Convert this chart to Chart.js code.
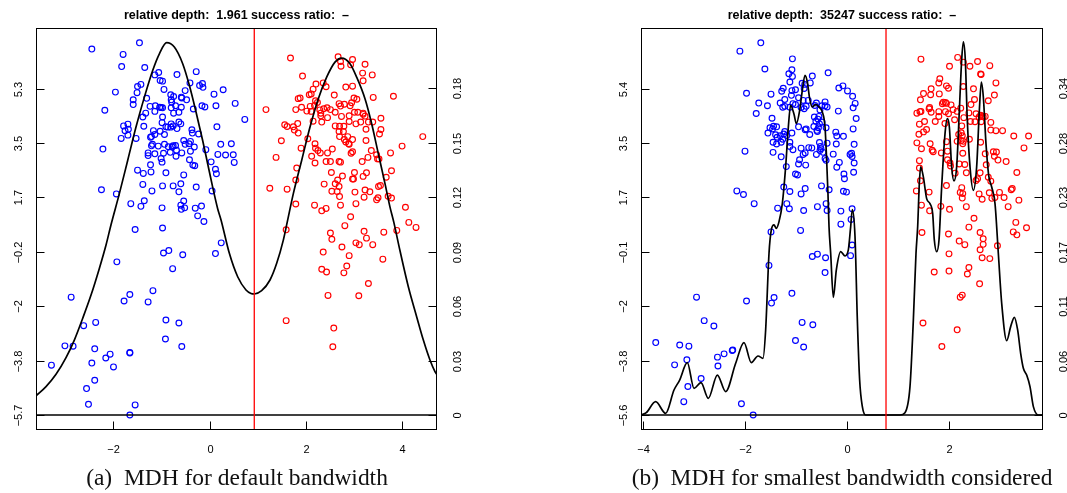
<!DOCTYPE html>
<html><head><meta charset="utf-8">
<script src="https://cdn.jsdelivr.net/npm/chart.js@4.4.1/dist/chart.umd.min.js"></script>
<style>
html,body{margin:0;padding:0;background:#fff;width:1067px;height:493px;overflow:hidden;position:relative}
canvas{position:absolute;top:0}
.cap{position:absolute;white-space:nowrap;font-family:"Liberation Serif","DejaVu Serif",serif;line-height:1;color:#111}
</style></head><body>
<canvas id="cA" width="533" height="493" style="left:0;width:533px;height:493px"></canvas>
<canvas id="cB" width="534" height="493" style="left:533px;width:534px;height:493px"></canvas>
<script>
// ---------------- Panel (a) data ----------------
const titleA = 'relative depth:  1.961 success ratio:  \u2013';
const captionA = '(a)\u2002MDH for default bandwidth';
const xTicksA = [-2, 0, 2, 4];
const xLabelsA = ['\u22122', '0', '2', '4'];
const yTicksA = [-5.66, -3.827, -1.993, -0.16, 1.673, 3.507, 5.34];
const yLabelsA = ['\u22125.7', '\u22123.8', '\u22122', '\u22120.2', '1.7', '3.5', '5.3'];
const dTicksA = [0, 0.03, 0.06, 0.09, 0.12, 0.15, 0.18];
const dLabelsA = ['0', '0.03', '0.06', '0.09', '0.12', '0.15', '0.18'];
const splitA = 0.927;
const blueA = [[-2.45,6.67],[-1.46,6.88],[-1.80,6.49],[-1.83,6.08],[-1.35,6.05],[-1.14,5.80],[-1.06,5.88],[-0.68,5.81],[-0.28,5.91],[-1.03,5.61],[-0.98,5.59],[-0.41,5.53],[-0.21,5.44],[-0.15,5.51],[-0.14,5.38],[-1.50,5.41],[-1.43,5.48],[-0.95,5.31],[-1.96,5.22],[-1.51,5.20],[-0.51,5.27],[-0.81,5.13],[-0.75,5.07],[-0.59,5.05],[-1.31,5.01],[-1.59,4.96],[-0.80,4.96],[-0.79,4.88],[-0.58,5.02],[-0.48,4.96],[0.09,5.15],[0.28,5.30],[0.53,4.84],[-1.59,4.80],[-1.13,4.76],[-1.24,4.74],[-1.01,4.70],[-1.04,4.71],[-0.98,4.69],[-1.14,4.57],[-0.80,4.69],[-0.71,4.76],[-0.59,4.71],[-0.34,4.65],[-0.16,4.76],[-0.10,4.72],[0.13,4.76],[-2.18,4.61],[-1.33,4.51],[-1.39,4.38],[-0.98,4.38],[-0.75,4.51],[-0.64,4.54],[0.73,4.30],[-1.79,4.08],[-1.70,4.14],[-1.76,3.92],[-1.69,3.97],[-1.84,3.66],[-1.70,3.77],[-1.53,3.66],[-1.37,4.07],[-0.99,4.19],[-0.91,4.05],[-0.87,4.04],[-0.80,4.15],[-0.76,4.08],[-0.68,3.99],[-0.60,4.15],[-0.64,4.21],[-0.81,4.04],[-1.17,3.92],[-1.14,3.79],[-1.21,3.72],[-1.23,3.70],[-1.03,3.90],[-0.94,3.79],[-0.37,3.95],[-0.36,3.84],[-0.23,3.81],[0.15,4.05],[-0.54,3.59],[-0.40,3.56],[-1.19,3.46],[-1.21,3.41],[-1.07,3.40],[-0.94,3.46],[-0.86,3.38],[-0.76,3.41],[-0.71,3.42],[-0.78,3.37],[-0.51,3.46],[-0.43,3.48],[-0.32,3.37],[0.23,3.46],[0.45,3.48],[-2.22,3.30],[-1.28,3.17],[-1.28,3.08],[-1.14,3.14],[-0.96,3.16],[-0.82,3.19],[-0.69,3.26],[-0.58,3.17],[-0.40,3.23],[-0.08,3.28],[0.17,3.12],[0.33,3.10],[0.49,3.11],[-1.01,2.98],[-0.99,2.86],[-0.70,3.06],[-0.42,2.94],[-0.35,2.76],[-0.31,2.74],[0.03,2.87],[0.51,2.85],[0.12,2.62],[0.14,2.47],[-1.50,2.59],[-1.38,2.48],[-1.22,2.53],[-1.23,2.77],[-0.91,2.50],[-0.54,2.43],[-1.39,2.11],[-1.20,1.89],[-0.98,2.06],[-0.76,2.06],[-0.60,2.13],[-0.64,1.86],[-0.28,2.02],[0.05,1.89],[-2.25,1.93],[-1.94,1.79],[-1.64,1.46],[-1.36,1.56],[-1.43,1.37],[-0.99,1.32],[-0.54,1.55],[-0.60,1.41],[-0.59,1.27],[-0.52,1.32],[-0.30,1.31],[-0.17,1.38],[-0.25,1.05],[-0.12,0.86],[-1.55,0.59],[-0.98,0.64],[0.24,0.14],[-0.96,-0.20],[-0.85,-0.12],[-0.56,-0.26],[0.12,-0.22],[-1.93,-0.50],[-0.77,-0.73],[-2.88,-1.69],[-1.66,-1.60],[-1.78,-1.82],[-1.28,-1.85],[-1.18,-1.47],[-2.62,-2.65],[-2.37,-2.54],[-0.91,-2.46],[-0.64,-2.56],[-0.92,-3.10],[-0.58,-3.35],[-3.01,-3.33],[-2.84,-3.34],[-2.39,-3.43],[-2.16,-3.74],[-2.07,-3.61],[-1.66,-3.55],[-1.66,-3.57],[-2.45,-3.91],[-2.00,-4.04],[-3.29,-3.98],[-2.39,-4.49],[-2.56,-4.77],[-2.52,-5.30],[-1.55,-5.32],[-1.66,-5.66]];
const redA = [[1.68,6.37],[2.67,6.41],[2.72,6.25],[2.97,6.32],[2.73,6.09],[2.93,6.14],[3.23,6.16],[1.93,5.76],[3.18,5.86],[3.38,5.80],[3.19,5.60],[2.21,5.49],[2.36,5.53],[2.42,5.40],[2.15,5.32],[2.11,5.16],[2.07,5.13],[2.83,5.39],[2.97,5.42],[1.84,5.00],[1.88,5.02],[2.20,4.93],[2.24,4.87],[2.59,5.12],[3.00,5.02],[3.06,4.98],[3.40,5.04],[3.82,5.08],[1.17,4.63],[1.79,4.63],[1.91,4.71],[2.02,4.58],[2.09,4.74],[2.18,4.77],[2.11,4.57],[2.29,4.62],[2.31,4.51],[2.37,4.66],[2.44,4.69],[2.51,4.63],[2.61,4.54],[2.72,4.75],[2.80,4.81],[2.92,4.76],[2.69,4.83],[2.95,4.86],[2.31,4.42],[2.45,4.36],[2.74,4.40],[2.90,4.42],[3.01,4.54],[3.08,4.54],[3.19,4.47],[3.19,4.51],[3.23,4.41],[2.90,4.23],[3.04,4.15],[3.14,4.21],[3.30,4.21],[3.39,4.21],[3.56,4.34],[2.15,4.24],[2.33,4.21],[1.56,4.12],[1.61,4.06],[1.74,4.05],[1.76,3.94],[1.83,4.16],[1.84,3.84],[2.61,4.08],[2.70,4.07],[2.79,4.07],[2.69,3.89],[2.78,3.89],[2.70,3.72],[2.87,3.72],[2.80,3.62],[2.83,3.54],[2.89,3.48],[2.97,3.62],[2.90,3.46],[3.25,3.97],[3.56,3.96],[3.53,3.81],[2.04,3.65],[1.49,3.58],[3.25,3.59],[2.19,3.48],[1.90,3.33],[2.20,3.33],[2.25,3.25],[2.30,3.17],[2.12,3.06],[2.19,2.83],[2.45,3.17],[2.55,3.30],[2.97,3.21],[2.94,3.16],[3.36,3.25],[3.47,3.11],[3.76,3.17],[4.00,3.40],[4.43,3.72],[1.38,3.02],[2.42,2.88],[2.51,2.88],[2.69,2.88],[2.72,2.86],[3.17,2.88],[3.29,3.02],[3.49,2.97],[3.52,2.97],[1.81,2.66],[1.79,2.26],[2.53,2.51],[2.76,2.39],[2.97,2.29],[2.99,2.29],[3.01,2.51],[3.19,2.38],[3.26,2.50],[2.66,2.26],[2.61,2.13],[2.69,2.04],[2.38,2.12],[2.54,1.88],[2.65,1.87],[2.70,1.70],[3.02,1.85],[3.23,1.92],[3.33,1.86],[3.21,1.68],[3.04,1.46],[3.51,2.04],[3.55,2.07],[3.67,2.35],[3.78,2.57],[3.47,1.59],[3.50,1.66],[3.71,1.71],[3.78,1.65],[1.25,1.98],[1.61,1.95],[1.79,1.45],[2.18,1.41],[2.33,1.22],[2.42,1.30],[2.72,1.41],[4.07,1.34],[4.14,0.83],[2.93,1.02],[1.59,0.58],[2.81,0.72],[2.51,0.47],[2.54,0.26],[3.21,0.53],[3.26,0.30],[3.04,0.14],[3.11,0.08],[3.39,0.08],[3.62,0.50],[3.89,0.56],[4.29,0.66],[2.75,0.00],[2.36,-0.17],[2.90,-0.29],[3.60,-0.41],[2.85,-0.64],[2.33,-0.75],[2.43,-0.84],[2.79,-0.87],[3.30,-1.23],[2.46,-1.63],[3.10,-1.64],[1.59,-2.48],[2.58,-2.73],[2.56,-3.36]];
const densityA = [[-3.611,0.0105],[-3.403,0.0156],[-3.195,0.0224],[-2.987,0.0316],[-2.814,0.0413],[-2.640,0.0533],[-2.467,0.0661],[-2.294,0.0808],[-2.155,0.0937],[-2.05,0.105],[-1.878,0.1220],[-1.705,0.1403],[-1.532,0.1587],[-1.358,0.1752],[-1.185,0.1899],[-1.046,0.1991],[-0.894,0.2052],[-0.735,0.2028],[-0.561,0.1936],[-0.423,0.1817],[-0.284,0.1670],[-0.146,0.1513],[-0.042,0.1385],[0.062,0.1256],[0.166,0.1137],[0.236,0.1075],[0.409,0.0891],[0.582,0.0762],[0.755,0.0689],[0.859,0.0670],[0.928,0.0667],[1.080,0.0685],[1.254,0.0744],[1.393,0.0836],[1.531,0.0964],[1.61,0.1060],[1.739,0.1220],[1.912,0.1403],[2.086,0.1587],[2.259,0.1743],[2.432,0.1862],[2.605,0.1945],[2.744,0.1967],[2.917,0.1936],[3.056,0.1862],[3.229,0.1743],[3.368,0.1605],[3.506,0.1440],[3.645,0.1275],[3.749,0.1146],[3.83,0.1060],[3.957,0.0905],[4.130,0.0707],[4.303,0.0542],[4.442,0.0413],[4.580,0.0303],[4.684,0.0239],[4.726,0.0222]];

// ---------------- Panel (b) data ----------------
const titleB = 'relative depth:  35247 success ratio:  \u2013';
const captionB = '(b)\u2002MDH for smallest bandwidth considered';
const xTicksB = [-4, -2, 0, 2];
const xLabelsB = ['\u22124', '\u22122', '0', '2'];
const yTicksB = [-5.62, -3.787, -1.953, -0.12, 1.713, 3.547, 5.38];
const yLabelsB = ['\u22125.6', '\u22123.8', '\u22122', '\u22120.1', '1.7', '3.5', '5.4'];
const dTicksB = [0, 0.0567, 0.1133, 0.17, 0.2267, 0.2833, 0.34];
const dLabelsB = ['0', '0.06', '0.11', '0.17', '0.23', '0.28', '0.34'];
const splitB = 0.765;
const blueB = [[-1.69,6.92],[-2.10,6.64],[-1.07,6.38],[-1.61,6.04],[-1.08,6.01],[-1.14,5.88],[-1.07,5.79],[-0.37,5.91],[-0.68,5.80],[-1.12,5.60],[-0.88,5.56],[-0.72,5.57],[-0.83,5.52],[-0.84,5.38],[-1.01,5.34],[-1.08,5.31],[-1.25,5.39],[-1.28,5.29],[-1.09,5.15],[-0.95,5.07],[-1.49,5.19],[-1.97,5.22],[-1.73,4.89],[-1.56,4.80],[-1.22,5.01],[-1.26,4.75],[-1.22,4.78],[-1.31,4.89],[-1.12,4.75],[-1.06,4.87],[-1.01,4.84],[-0.86,4.98],[-0.90,4.74],[-0.84,4.70],[-0.76,4.98],[-0.80,4.78],[-0.60,4.89],[-0.63,4.81],[-0.49,4.80],[-0.43,4.93],[-0.43,4.80],[-0.53,4.66],[-0.39,4.76],[-0.16,5.40],[-0.08,5.47],[0.01,5.30],[0.11,5.12],[0.16,4.88],[0.12,4.73],[-0.17,4.62],[0.18,4.37],[0.12,4.02],[-1.78,4.54],[-1.47,4.38],[-1.55,3.88],[-1.51,4.06],[-1.44,4.11],[-1.38,4.09],[-1.46,4.02],[-1.40,3.82],[-1.37,3.74],[-1.31,3.79],[-1.24,3.85],[-1.22,3.93],[-1.26,3.67],[-1.18,3.80],[-1.08,3.88],[-0.95,4.09],[-0.80,4.02],[-0.73,3.83],[-0.82,3.99],[-0.64,4.42],[-0.61,4.28],[-0.55,4.44],[-0.57,4.35],[-0.54,4.19],[-0.49,4.25],[-0.56,4.06],[-0.65,4.10],[-0.59,3.97],[-0.58,3.93],[-0.41,4.06],[-0.22,3.91],[-0.20,3.78],[-0.07,3.77],[-1.45,3.57],[-1.38,3.51],[-1.29,3.57],[-1.12,3.57],[-1.12,3.43],[-1.06,3.32],[-0.90,3.37],[-0.75,3.39],[-0.69,3.38],[-0.54,3.56],[-0.52,3.43],[-0.51,3.35],[-0.39,3.54],[-0.21,3.51],[0.14,3.50],[-2.00,3.27],[-1.45,3.23],[-1.29,3.08],[-0.86,3.16],[-0.82,3.21],[-0.60,3.16],[-0.53,3.29],[-0.47,3.23],[-0.43,3.02],[-0.27,3.17],[0.09,3.20],[0.06,3.16],[0.10,3.09],[-0.93,2.98],[-0.95,2.84],[-1.19,2.75],[-0.81,2.80],[-0.41,2.96],[-0.15,2.89],[-0.20,2.73],[-0.06,2.50],[-0.05,2.34],[0.14,2.87],[0.13,2.56],[-1.01,2.50],[-0.97,2.47],[-1.24,2.06],[-1.12,1.91],[-0.82,2.01],[-0.90,1.83],[-0.50,2.10],[-0.35,1.97],[-0.07,1.92],[-0.01,1.89],[-2.16,1.93],[-2.03,1.81],[-1.82,1.50],[-1.36,1.35],[-1.18,1.50],[-1.13,1.33],[-0.85,1.27],[-0.58,1.40],[-0.41,1.50],[-0.39,1.27],[-0.12,1.25],[-0.12,0.81],[0.10,1.33],[0.08,0.97],[-3.75,-3.18],[-3.38,-3.93],[-3.28,-3.26],[-3.10,-3.30],[-3.14,-3.76],[-2.95,-1.65],[-2.80,-2.44],[-2.61,-2.62],[-2.54,-3.67],[-2.53,-3.97],[-2.41,-3.56],[-2.25,-3.45],[-2.24,-3.43],[-2.86,-4.39],[-3.12,-4.66],[-3.20,-5.17],[-2.07,-5.24],[-1.84,-5.62],[-1.97,-1.78],[-1.53,-0.58],[-1.49,0.55],[-1.48,-1.85],[-1.43,-1.66],[-1.08,-1.52],[-1.01,-3.11],[-0.91,0.60],[-0.88,-2.50],[-0.85,-3.33],[-0.67,-2.58],[-0.68,-0.28],[-0.58,-0.20],[-0.42,-0.32],[-0.43,-0.82],[0.07,-0.25],[0.10,0.11]];
const redB = [[1.45,6.37],[2.17,6.43],[2.01,6.13],[2.28,6.27],[2.41,6.13],[2.56,6.29],[2.80,6.15],[2.62,5.87],[2.63,5.85],[1.82,5.71],[1.80,5.57],[1.95,5.47],[1.99,5.39],[1.65,5.37],[1.50,5.21],[1.64,5.17],[1.81,5.20],[1.44,5.00],[1.89,4.92],[1.93,4.91],[1.95,4.88],[2.04,4.83],[1.87,4.87],[2.28,5.45],[2.48,5.37],[2.92,5.57],[2.89,5.16],[2.50,5.01],[2.77,4.97],[1.62,4.74],[1.61,4.70],[1.37,4.55],[1.43,4.60],[1.45,4.61],[1.65,4.58],[1.80,4.60],[1.80,4.44],[1.93,4.60],[1.99,4.53],[2.08,4.67],[2.16,4.61],[2.23,4.72],[2.39,4.56],[2.43,4.84],[2.53,4.53],[2.62,4.48],[2.64,4.44],[2.67,4.43],[2.71,4.44],[2.59,4.42],[2.29,4.40],[2.11,4.33],[1.92,4.20],[1.73,4.27],[1.52,4.27],[1.42,4.18],[1.50,3.92],[1.41,3.84],[1.56,4.00],[2.25,4.12],[2.42,4.27],[2.51,4.26],[2.63,4.26],[2.82,4.24],[2.82,3.98],[2.92,3.96],[3.05,3.96],[2.19,3.83],[2.24,3.89],[2.26,3.79],[2.24,3.63],[2.40,3.67],[2.16,3.60],[2.27,3.52],[2.28,3.60],[1.95,3.59],[1.37,3.55],[1.63,3.52],[1.46,3.35],[1.67,3.30],[1.69,3.25],[1.85,3.21],[1.97,3.27],[2.27,3.20],[2.62,3.57],[2.87,3.25],[2.93,3.24],[2.71,3.18],[2.89,3.10],[2.96,2.97],[3.12,2.92],[3.27,3.78],[3.56,3.78],[3.47,3.38],[1.97,2.98],[2.02,2.87],[2.03,2.77],[2.20,2.84],[2.31,2.82],[1.42,2.95],[1.42,2.70],[2.12,2.53],[2.34,2.54],[1.44,2.27],[2.53,2.28],[2.61,2.54],[2.56,2.34],[2.77,2.39],[2.82,2.26],[2.73,2.81],[3.33,2.55],[1.95,2.11],[1.61,1.89],[1.36,1.93],[2.25,2.04],[2.22,1.88],[2.27,1.84],[2.26,1.69],[2.59,1.83],[2.65,1.65],[2.79,1.87],[2.84,1.68],[2.90,1.71],[2.99,1.88],[3.08,1.71],[3.22,1.97],[3.24,2.01],[3.37,1.62],[3.16,1.40],[1.46,1.45],[1.62,1.26],[1.84,1.41],[2.01,1.31],[2.34,1.40],[2.49,1.01],[3.31,0.87],[1.47,0.53],[1.99,0.48],[2.20,0.24],[2.31,0.12],[2.39,0.71],[2.61,0.53],[2.67,0.32],[2.67,0.13],[2.61,-0.05],[2.65,-0.32],[2.80,-0.35],[2.95,0.08],[3.26,0.55],[3.33,0.45],[3.52,0.69],[2.00,-0.19],[1.71,-0.80],[2.00,-0.77],[2.36,-0.87],[2.39,-0.65],[2.60,-1.20],[2.22,-1.65],[2.26,-1.58],[1.49,-2.52],[2.16,-2.75],[1.86,-3.31]];
const densityB = [[-4.039,0],[-3.935,0.0024],[-3.752,0.0139],[-3.556,0.0017],[-3.392,0.0260],[-3.281,0.0364],[-3.131,0.0545],[-3.0,0.0278],[-2.863,0.0337],[-2.719,0.0174],[-2.542,0.0416],[-2.379,0.0243],[-2.183,0.0538],[-2.020,0.0753],[-1.876,0.0545],[-1.745,0.0614],[-1.647,0.0590],[-1.595,0.0885],[-1.529,0.1683],[-1.484,0.1926],[-1.431,0.1978],[-1.386,0.1943],[-1.333,0.2013],[-1.268,0.2200],[-1.203,0.2582],[-1.150,0.2998],[-1.105,0.3224],[-1.039,0.3130],[-0.993,0.3033],[-0.928,0.3171],[-0.876,0.3380],[-0.824,0.3536],[-0.778,0.3466],[-0.732,0.3293],[-0.680,0.3206],[-0.614,0.3234],[-0.549,0.3206],[-0.484,0.3154],[-0.431,0.2998],[-0.399,0.2651],[-0.373,0.2304],[-0.353,0.1964],[-0.320,0.1683],[-0.268,0.1225],[-0.209,0.1510],[-0.124,0.1700],[-0.039,0.1655],[0.026,0.1718],[0.072,0.1961],[0.105,0.2138],[0.157,0.1857],[0.203,0.0989],[0.248,0.0364],[0.301,0.0087],[0.366,0],[1.039,0],[1.137,0.0024],[1.235,0.0295],[1.301,0.0989],[1.353,0.1683],[1.386,0.1964],[1.418,0.2408],[1.444,0.2582],[1.497,0.2478],[1.562,0.2252],[1.627,0.2200],[1.680,0.2096],[1.712,0.1822],[1.758,0.1700],[1.804,0.1822],[1.856,0.2373],[1.922,0.2929],[1.967,0.3085],[2.007,0.2998],[2.052,0.2582],[2.098,0.2436],[2.150,0.2582],[2.203,0.3171],[2.248,0.3692],[2.281,0.3883],[2.320,0.3692],[2.359,0.3067],[2.412,0.2582],[2.477,0.2339],[2.542,0.2582],[2.595,0.3171],[2.634,0.3466],[2.673,0.3310],[2.725,0.2824],[2.778,0.2495],[2.837,0.2373],[2.902,0.2200],[2.967,0.1683],[3.033,0.1163],[3.131,0.0774],[3.209,0.0920],[3.281,0.1017],[3.346,0.0885],[3.405,0.0642],[3.458,0.0486],[3.523,0.0416],[3.588,0.0295],[3.654,0.0087],[3.752,0],[3.843,0]];

// ---------------- drawing ----------------
const toXY = arr => arr.map(p => ({x: p[0], y: p[1]}));
const AXIS_FONT = '11px "Liberation Sans", Arial, sans-serif';
const TITLE_FONT = 'bold 12.5px "Liberation Sans", Arial, sans-serif';

function rAxesPlugin(p) {
  return {
    id: 'rAxes',
    afterDatasetsDraw(chart) {
      const ctx = chart.ctx, a = chart.chartArea;
      const sx = chart.scales.x, sy = chart.scales.y, sd = chart.scales.yd;
      const L = Math.round(a.left) + 0.5, R = Math.round(a.right) - 0.5;
      const T = Math.round(a.top) + 0.5, B = Math.round(a.bottom) - 0.5;
      const tl = 8;
      ctx.save();
      ctx.strokeStyle = '#000'; ctx.lineWidth = 1;
      ctx.strokeRect(L, T, R - L, B - T);
      ctx.fillStyle = '#000'; ctx.font = AXIS_FONT;
      ctx.textAlign = 'center'; ctx.textBaseline = 'middle';
      p.xTicks.forEach((v, i) => {
        const x = Math.round(sx.getPixelForValue(v)) + 0.5;
        ctx.beginPath(); ctx.moveTo(x, B); ctx.lineTo(x, B - tl); ctx.stroke();
        ctx.fillText(p.xLabels[i], x, a.bottom + 20);
      });
      p.yTicks.forEach((v, i) => {
        const y = Math.round(sy.getPixelForValue(v)) + 0.5;
        ctx.beginPath(); ctx.moveTo(L, y); ctx.lineTo(L + tl, y); ctx.stroke();
        ctx.save(); ctx.translate(a.left - 17, y); ctx.rotate(-Math.PI / 2);
        ctx.fillText(p.yLabels[i], 0, 0); ctx.restore();
      });
      p.dTicks.forEach((v, i) => {
        const y = Math.round(sd.getPixelForValue(v)) + 0.5;
        ctx.beginPath(); ctx.moveTo(R, y); ctx.lineTo(R - tl, y); ctx.stroke();
        ctx.save(); ctx.translate(a.right + 21, y); ctx.rotate(-Math.PI / 2);
        ctx.fillText(p.dLabels[i], 0, 0); ctx.restore();
      });
      ctx.font = TITLE_FONT;
      ctx.fillText(p.title, (a.left + a.right) / 2, 15.5);
      ctx.restore();
    }
  };
}

function makePanel(id, p) {
  const ds = [
    {type: 'line', data: [{x: p.split, y: p.yMin}, {x: p.split, y: p.yMax}], yAxisID: 'y',
     borderColor: '#ff0000', borderWidth: 1.3, pointRadius: 0, showLine: true, clip: 0},
    {type: 'line', data: toXY(p.density), yAxisID: 'yd', borderColor: '#000', borderWidth: 1.7,
     pointRadius: 0, showLine: true, cubicInterpolationMode: 'monotone', fill: false},
    {type: 'line', data: [{x: p.xMin, y: 0}, {x: p.xMax, y: 0}], yAxisID: 'yd', borderColor: '#000',
     borderWidth: 1.6, pointRadius: 0, showLine: true},
    {type: 'scatter', data: toXY(p.blue), yAxisID: 'y', pointStyle: 'circle', pointRadius: 2.9,
     pointBorderWidth: 1.15, pointBorderColor: '#0000ff', pointBackgroundColor: 'rgba(0,0,0,0)', showLine: false},
    {type: 'scatter', data: toXY(p.red), yAxisID: 'y', pointStyle: 'circle', pointRadius: 2.9,
     pointBorderWidth: 1.15, pointBorderColor: '#ff0000', pointBackgroundColor: 'rgba(0,0,0,0)', showLine: false}
  ];
  return new Chart(document.getElementById(id), {
    type: 'scatter',
    data: {datasets: ds},
    options: {
      responsive: false, animation: false, devicePixelRatio: 1, events: [],
      layout: {padding: p.pad},
      plugins: {legend: {display: false}, tooltip: {enabled: false}, title: {display: false}},
      scales: {
        x: {type: 'linear', display: false, min: p.xMin, max: p.xMax},
        y: {type: 'linear', display: false, min: p.yMin, max: p.yMax},
        yd: {type: 'linear', display: false, position: 'right', min: p.dMin, max: p.dMax}
      }
    },
    plugins: [rAxesPlugin(p)]
  });
}

makePanel('cA', {
  title: titleA, xTicks: xTicksA, xLabels: xLabelsA, yTicks: yTicksA, yLabels: yLabelsA,
  dTicks: dTicksA, dLabels: dLabelsA, split: splitA, blue: blueA, red: redA, density: densityA,
  xMin: -3.611, xMax: 4.726, yMin: -6.165, yMax: 7.38, dMin: -0.00827, dMax: 0.2133,
  pad: {left: 36, right: 96, top: 28, bottom: 63}
});
makePanel('cB', {
  title: titleB, xTicks: xTicksB, xLabels: xLabelsB, yTicks: yTicksB, yLabels: yLabelsB,
  dTicks: dTicksB, dLabels: dLabelsB, split: splitB, blue: blueB, red: redB, density: densityB,
  xMin: -4.039, xMax: 3.843, yMin: -6.125, yMax: 7.42, dMin: -0.01561, dMax: 0.4028,
  pad: {left: 108, right: 24, top: 28, bottom: 63}
});

function caption(text, cx, baseline, targetW) {
  const d = document.createElement('div');
  d.className = 'cap'; d.textContent = text; d.style.fontSize = '20px';
  document.body.appendChild(d);
  const w = d.getBoundingClientRect().width;
  const fs = 20 * targetW / w;
  d.style.fontSize = fs + 'px';
  const w2 = d.getBoundingClientRect().width;
  d.style.left = (cx - w2 / 2) + 'px';
  d.style.top = (baseline - 0.8375 * fs) + 'px';
}
caption(captionA, 237, 485.5, 302);
caption(captionB, 842, 485.5, 421);
</script>
</body></html>
